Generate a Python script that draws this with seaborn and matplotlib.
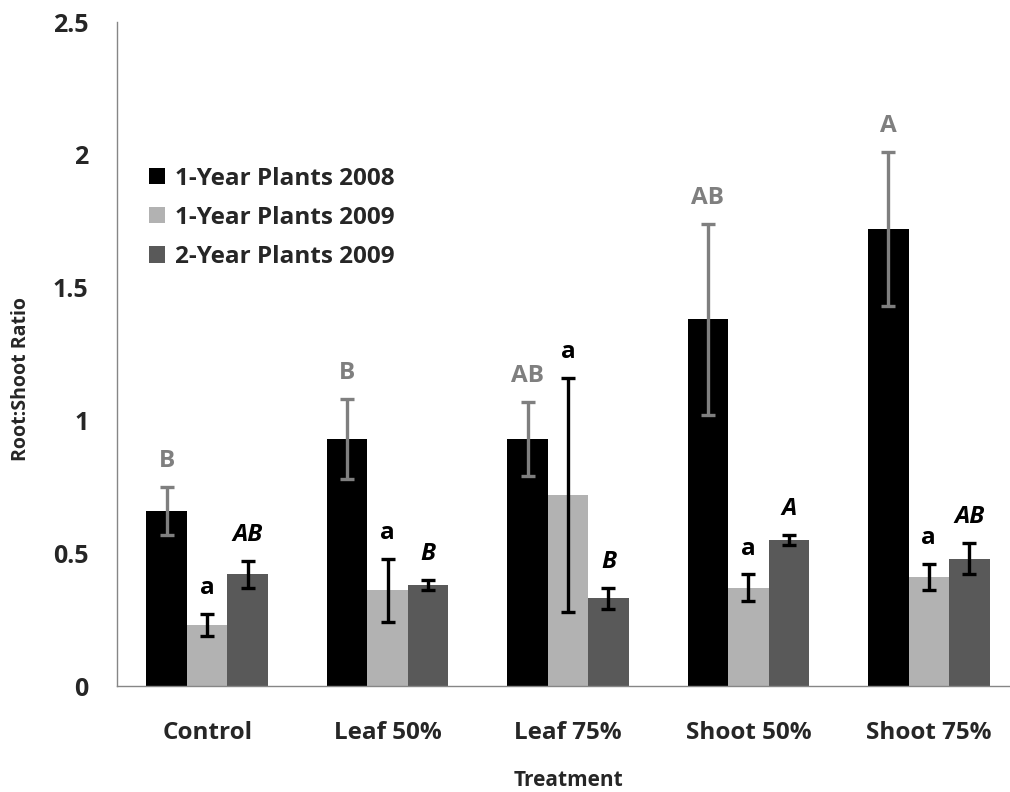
import numpy as np
import pandas as pd
import matplotlib
matplotlib.use("Agg")
import matplotlib.pyplot as plt
import seaborn as sns

treatments = ["Control", "Leaf 50%", "Leaf 75%", "Shoot 50%", "Shoot 75%"]
series = ["1-Year Plants 2008", "1-Year Plants 2009", "2-Year Plants 2009"]
vals_1y2008 = [0.66, 0.93, 0.93, 1.38, 1.72]
vals_1y2009 = [0.23, 0.36, 0.72, 0.37, 0.41]
vals_2y2009 = [0.42, 0.38, 0.33, 0.55, 0.48]
err_1y2008 = [0.09, 0.15, 0.14, 0.36, 0.29]
err_1y2009 = [0.04, 0.12, 0.44, 0.05, 0.05]
err_2y2009 = [0.05, 0.02, 0.04, 0.02, 0.06]
letters_1y2008 = ["B", "B", "AB", "AB", "A"]
letters_1y2009 = ["a", "a", "a", "a", "a"]
letters_2y2009 = ["AB", "B", "B", "A", "AB"]
yticks = [0, 0.5, 1, 1.5, 2, 2.5]
ytick_labels = ["0", "0.5", "1", "1.5", "2", "2.5"]

colors = ["#000000", "#b2b2b2", "#595959"]
err_colors = ["#7f7f7f", "#000000", "#000000"]
letter_styles = [dict(color="#7f7f7f", style="normal"),
                 dict(color="#000000", style="normal"),
                 dict(color="#000000", style="italic")]

vals = [vals_1y2008, vals_1y2009, vals_2y2009]
errs = [err_1y2008, err_1y2009, err_2y2009]
letters = [letters_1y2008, letters_1y2009, letters_2y2009]

df = pd.DataFrame({
    "Treatment": treatments * 3,
    "Series": [s for s in series for _ in treatments],
    "Value": vals_1y2008 + vals_1y2009 + vals_2y2009,
})

sns.set_style("white")
plt.rcParams["font.family"] = ["Open Sans", "DejaVu Sans"]
plt.rcParams["font.weight"] = "bold"

fig = plt.figure(figsize=(10.10, 7.92), dpi=100)
ax = fig.add_axes([117 / 1010, (792 - 686) / 792, (1019 - 117) / 1010, (686 - 22) / 792])

sns.barplot(data=df, x="Treatment", y="Value", hue="Series", order=treatments,
            hue_order=series, palette=colors, width=0.673, saturation=1,
            errorbar=None, ax=ax, linewidth=0)

# bar centres from the patches
containers = list(ax.containers)
for si, cont in enumerate(containers):
    for bi, patch in enumerate(cont.patches):
        xc = patch.get_x() + patch.get_width() / 2
        v = vals[si][bi]
        e = errs[si][bi]
        ax.errorbar(xc, v, yerr=e, fmt="none", ecolor=err_colors[si],
                    elinewidth=2.4, capsize=5, capthick=2.4, zorder=5)
        ax.annotate(letters[si][bi], xy=(xc, v + e), xytext=(0, 10),
                    textcoords="offset points", ha="center", va="bottom",
                    fontsize=17.5, fontweight="bold",
                    color=letter_styles[si]["color"],
                    fontstyle=letter_styles[si]["style"])

ax.set_ylim(0, 2.5)
ax.set_xlim(-0.5, 4.5)
ax.set_yticks(yticks)
ax.set_yticklabels(ytick_labels, fontsize=18, fontweight="bold")
ax.set_xticks(range(len(treatments)))
ax.set_xticklabels(treatments, fontsize=17.5, fontweight="bold")
ax.set_xticks(np.arange(-0.5, 5.0, 1.0), minor=True)
ax.tick_params(axis="x", which="major", length=0, pad=25)
ax.tick_params(axis="x", which="minor", length=6, color="#868686", width=1, direction="out")
ax.tick_params(axis="y", which="major", length=6.5, color="#868686", width=1, direction="out", pad=14)

for side in ["top", "right"]:
    ax.spines[side].set_visible(False)
for side in ["left", "bottom"]:
    ax.spines[side].set_color("#868686")
    ax.spines[side].set_linewidth(1)

ax.set_xlabel("Treatment", fontsize=15, fontweight="bold", labelpad=18)
ax.set_ylabel("Root:Shoot Ratio", fontsize=14, fontweight="bold")
ax.yaxis.set_label_coords(-0.095, 0.462)

leg = ax.legend(loc="upper left", bbox_to_anchor=(0.011, 0.815), frameon=False,
                fontsize=17.5, handlelength=0.66, handleheight=0.66,
                handletextpad=0.4, labelspacing=0.62)
for t in leg.get_texts():
    t.set_fontweight("bold")

fig.savefig("out.png", dpi=100)
